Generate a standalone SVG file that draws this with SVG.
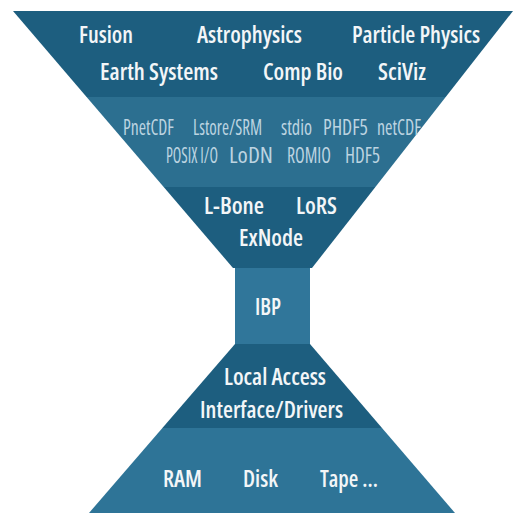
<svg xmlns="http://www.w3.org/2000/svg" width="515" height="513" viewBox="0 0 515 513">
  <style>
    .dark { fill: #1d5e7f; }
    .light { fill: #2c6f90; }
    .ibp { fill: #30769a; }
    .light2 { fill: #2e7497; }
    .t { font-family: "Open Sans", "Liberation Sans", "DejaVu Sans", sans-serif; font-stretch: condensed; font-weight: 600; font-size: 23px; fill: #f3f6f8; }
    .s { font-family: "Liberation Sans Narrow", "Open Sans", "Liberation Sans", sans-serif; font-stretch: condensed; font-weight: 400; font-size: 22px; fill: #bcd4e1; }
  </style>
  <rect width="515" height="513" fill="#ffffff"/>

  <g id="applications">
    <polygon class="dark" points="13,11 513,11 445.7,97 86.6,97"/>
    <text class="t" x="79" y="43" textLength="54" lengthAdjust="spacingAndGlyphs">Fusion</text>
    <text class="t" x="197" y="43" textLength="105" lengthAdjust="spacingAndGlyphs">Astrophysics</text>
    <text class="t" x="352" y="43" textLength="128" lengthAdjust="spacingAndGlyphs">Particle Physics</text>
    <text class="t" x="100" y="80" textLength="118" lengthAdjust="spacingAndGlyphs">Earth Systems</text>
    <text class="t" x="263" y="80" textLength="80" lengthAdjust="spacingAndGlyphs">Comp Bio</text>
    <text class="t" x="378" y="80" textLength="48" lengthAdjust="spacingAndGlyphs">SciViz</text>
  </g>

  <g id="io-libraries">
    <polygon class="light" points="86.6,97 445.7,97 375.4,187 163.7,187"/>
    <text class="s" x="123" y="135" textLength="51" lengthAdjust="spacingAndGlyphs">PnetCDF</text>
    <text class="s" x="193" y="135" textLength="69" lengthAdjust="spacingAndGlyphs">Lstore/SRM</text>
    <text class="s" x="281" y="135" textLength="31" lengthAdjust="spacingAndGlyphs">stdio</text>
    <text class="s" x="323" y="135" textLength="45" lengthAdjust="spacingAndGlyphs">PHDF5</text>
    <text class="s" x="377" y="135" textLength="44" lengthAdjust="spacingAndGlyphs">netCDF</text>
    <text class="s" x="166" y="163" textLength="52" lengthAdjust="spacingAndGlyphs">POSIX I/O</text>
    <text class="s" x="229" y="163" textLength="44" lengthAdjust="spacingAndGlyphs">LoDN</text>
    <text class="s" x="287" y="163" textLength="44" lengthAdjust="spacingAndGlyphs">ROMIO</text>
    <text class="s" x="345" y="163" textLength="35" lengthAdjust="spacingAndGlyphs">HDF5</text>
  </g>

  <g id="logistical-tools">
    <polygon class="dark" points="163.7,187 375.4,187 312,268 233,268"/>
    <text class="t" x="204" y="214" textLength="60" lengthAdjust="spacingAndGlyphs">L-Bone</text>
    <text class="t" x="296" y="214" textLength="41" lengthAdjust="spacingAndGlyphs">LoRS</text>
    <text class="t" x="239" y="246" textLength="64" lengthAdjust="spacingAndGlyphs">ExNode</text>
  </g>

  <g id="ibp">
    <rect class="ibp" x="235" y="268" width="75" height="76"/>
    <text class="t" x="255" y="315" textLength="26" lengthAdjust="spacingAndGlyphs">IBP</text>
  </g>

  <g id="local-access">
    <polygon class="dark" points="235,344 310,344 382,428 162.4,428"/>
    <text class="t" x="224" y="385" textLength="102" lengthAdjust="spacingAndGlyphs">Local Access</text>
    <text class="t" x="200" y="418" textLength="143" lengthAdjust="spacingAndGlyphs">Interface/Drivers</text>
  </g>

  <g id="storage">
    <polygon class="light2" points="162.4,428 382,428 455,513 89,513"/>
    <text class="t" x="163" y="487" textLength="39" lengthAdjust="spacingAndGlyphs">RAM</text>
    <text class="t" x="243" y="487" textLength="35" lengthAdjust="spacingAndGlyphs">Disk</text>
    <text class="t" x="320" y="487" textLength="58" lengthAdjust="spacingAndGlyphs">Tape ...</text>
  </g>

  <g id="connectors"></g>
</svg>
